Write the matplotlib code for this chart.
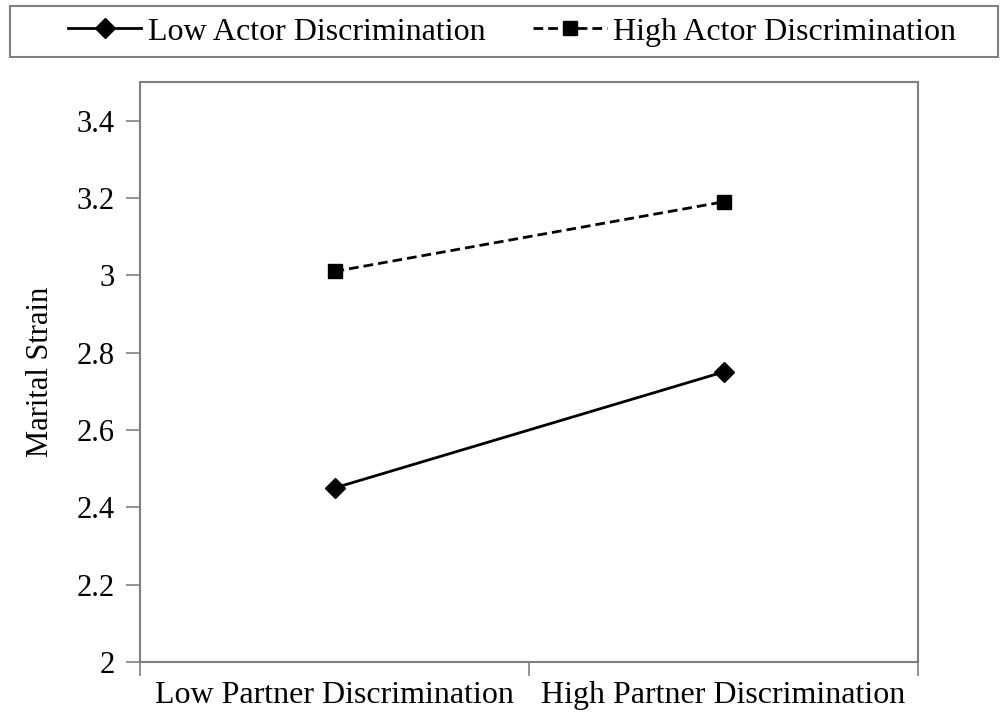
import matplotlib
matplotlib.use('Agg')
import matplotlib.pyplot as plt
from matplotlib.patches import Rectangle

plt.rcParams['font.family'] = ['Liberation Serif', 'DejaVu Serif']

categories = ['Low Partner Discrimination', 'High Partner Discrimination']
low_actor = [2.45, 2.75]
high_actor = [3.01, 3.19]
y_ticks = [2, 2.2, 2.4, 2.6, 2.8, 3, 3.2, 3.4]
y_labels = ['2', '2.2', '2.4', '2.6', '2.8', '3', '3.2', '3.4']

fig = plt.figure(figsize=(10.01, 7.19), dpi=100)
ax = fig.add_axes([0.1399, 0.0793, 0.7772, 0.8067])

x = [0.5, 1.5]
ax.plot(x, low_actor, color='black', linestyle='-', linewidth=2,
        marker='D', markersize=10, label='Low Actor Discrimination')
ax.plot(x, high_actor, color='black', linestyle=(0, (3.5, 1.8)), linewidth=2,
        marker='s', markersize=10.5, label='High Actor Discrimination')

ax.set_xlim(0, 2)
ax.set_ylim(2, 3.5)
ax.set_yticks(y_ticks)
ax.set_yticklabels(y_labels)
ax.set_xticks([0, 1, 2])
ax.set_xticklabels(['', '', ''])
ax.set_xticks(x, minor=True)
ax.set_xticklabels(categories, minor=True)
ax.tick_params(axis='x', which='minor', length=0, pad=14, labelsize=23)
ax.tick_params(axis='x', which='major', length=10, color='#808080', width=1.2)
ax.tick_params(axis='y', length=10, color='#808080', width=1.2, labelsize=22, pad=8)

for s in ax.spines.values():
    s.set_color('#808080')
    s.set_linewidth(1.5)

ax.set_ylabel('Marital Strain', fontsize=22, labelpad=16)

# legend box drawn separately, entries centred inside it
fig.patches.append(Rectangle((10 / 1001, 1 - 57 / 719), 988 / 1001, 51 / 719,
                             transform=fig.transFigure, fill=False,
                             edgecolor='#808080', linewidth=1.5))
leg = fig.legend(loc='center', bbox_to_anchor=(512 / 1001, 1 - 32 / 719),
                 ncol=2, fontsize=23, frameon=False, borderpad=0.2,
                 handlelength=2.3, handletextpad=0.2, columnspacing=1.5,
                 bbox_transform=fig.transFigure)

fig.savefig('out.png', dpi=100)
